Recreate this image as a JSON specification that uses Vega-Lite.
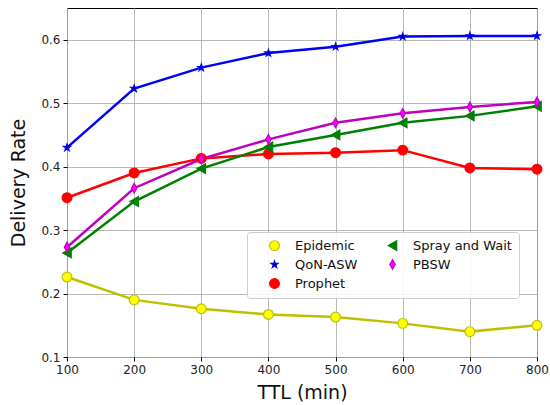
{
  "$schema": "https://vega.github.io/schema/vega-lite/v6.json",
  "autosize": {"type": "none"},
  "width": 470,
  "height": 349,
  "padding": {"left": 67, "top": 8, "right": 13, "bottom": 48},
  "background": "white",
  "config": {
    "font": "DejaVu Sans",
    "view": {"stroke": "black", "strokeWidth": 1},
    "axis": {
      "gridColor": "#b0b0b0", "gridWidth": 0.9, "gridOpacity": 1,
      "domain": false, "tickColor": "black", "tickSize": 4,
      "labelFont": "DejaVu Sans", "labelFontSize": 12, "labelColor": "#222", "labelFlush": false, "labelOverlap": false,
      "titleFont": "DejaVu Sans", "titleFontSize": 19, "titleFontWeight": "normal", "titleColor": "#111"
    }
  },
  "data": {"values": [
    {"ttl": 100, "series": "Epidemic", "rate": 0.226},
    {"ttl": 200, "series": "Epidemic", "rate": 0.190},
    {"ttl": 300, "series": "Epidemic", "rate": 0.176},
    {"ttl": 400, "series": "Epidemic", "rate": 0.167},
    {"ttl": 500, "series": "Epidemic", "rate": 0.163},
    {"ttl": 600, "series": "Epidemic", "rate": 0.153},
    {"ttl": 700, "series": "Epidemic", "rate": 0.140},
    {"ttl": 800, "series": "Epidemic", "rate": 0.150},
    {"ttl": 100, "series": "QoN-ASW", "rate": 0.430},
    {"ttl": 200, "series": "QoN-ASW", "rate": 0.523},
    {"ttl": 300, "series": "QoN-ASW", "rate": 0.556},
    {"ttl": 400, "series": "QoN-ASW", "rate": 0.579},
    {"ttl": 500, "series": "QoN-ASW", "rate": 0.589},
    {"ttl": 600, "series": "QoN-ASW", "rate": 0.605},
    {"ttl": 700, "series": "QoN-ASW", "rate": 0.606},
    {"ttl": 800, "series": "QoN-ASW", "rate": 0.606},
    {"ttl": 100, "series": "Prophet", "rate": 0.351},
    {"ttl": 200, "series": "Prophet", "rate": 0.390},
    {"ttl": 300, "series": "Prophet", "rate": 0.413},
    {"ttl": 400, "series": "Prophet", "rate": 0.420},
    {"ttl": 500, "series": "Prophet", "rate": 0.422},
    {"ttl": 600, "series": "Prophet", "rate": 0.426},
    {"ttl": 700, "series": "Prophet", "rate": 0.398},
    {"ttl": 800, "series": "Prophet", "rate": 0.396},
    {"ttl": 100, "series": "Spray and Wait", "rate": 0.264},
    {"ttl": 200, "series": "Spray and Wait", "rate": 0.345},
    {"ttl": 300, "series": "Spray and Wait", "rate": 0.397},
    {"ttl": 400, "series": "Spray and Wait", "rate": 0.431},
    {"ttl": 500, "series": "Spray and Wait", "rate": 0.450},
    {"ttl": 600, "series": "Spray and Wait", "rate": 0.469},
    {"ttl": 700, "series": "Spray and Wait", "rate": 0.480},
    {"ttl": 800, "series": "Spray and Wait", "rate": 0.495},
    {"ttl": 100, "series": "PBSW", "rate": 0.273},
    {"ttl": 200, "series": "PBSW", "rate": 0.366},
    {"ttl": 300, "series": "PBSW", "rate": 0.412},
    {"ttl": 400, "series": "PBSW", "rate": 0.443},
    {"ttl": 500, "series": "PBSW", "rate": 0.469},
    {"ttl": 600, "series": "PBSW", "rate": 0.484},
    {"ttl": 700, "series": "PBSW", "rate": 0.494},
    {"ttl": 800, "series": "PBSW", "rate": 0.502}
  ]},
  "encoding": {
    "x": {"field": "ttl", "type": "quantitative", "title": "TTL (min)",
          "scale": {"domain": [100, 800], "nice": false},
          "axis": {"values": [100, 200, 300, 400, 500, 600, 700, 800], "titlePadding": 8, "labelPadding": 3}},
    "y": {"field": "rate", "type": "quantitative", "title": "Delivery Rate",
          "scale": {"domain": [0.1, 0.65], "nice": false, "zero": false},
          "axis": {"values": [0.1, 0.2, 0.3, 0.4, 0.5, 0.6], "format": ".1f", "titlePadding": 12, "labelPadding": 3}}
  },
  "layer": [
    {
      "mark": {"type": "line", "strokeWidth": 2.5},
      "encoding": {
        "stroke": {"field": "series", "type": "nominal", "title": null,
          "scale": {"domain": ["Epidemic", "Spray and Wait", "QoN-ASW", "PBSW", "Prophet"],
                    "range": ["#bfbf00", "#008000", "#0000ff", "#bf00bf", "#ff0000"]}},
        "detail": {"field": "series"}
      }
    },
    {
      "mark": {"type": "point", "filled": true, "size": 95, "strokeWidth": 1.2, "opacity": 1},
      "encoding": {
        "stroke": {"field": "series", "type": "nominal", "title": null,
          "scale": {"domain": ["Epidemic", "Spray and Wait", "QoN-ASW", "PBSW", "Prophet"],
                    "range": ["#bfbf00", "#008000", "#0000ff", "#bf00bf", "#ff0000"]},
          "legend": {
            "orient": "none", "legendX": 180, "legendY": 224, "columns": 2,
            "direction": "horizontal",
            "labelFont": "DejaVu Sans", "labelFontSize": 13, "labelColor": "#111",
            "symbolSize": 95, "symbolStrokeWidth": 1.2, "columnPadding": 14, "rowPadding": 4,
            "padding": 7, "fillColor": "rgba(255,255,255,0.85)", "strokeColor": "#cccccc",
            "cornerRadius": 3, "labelOffset": 14, "symbolOffset": 14
          }},
        "fill": {"field": "series", "type": "nominal", "title": null,
          "scale": {"domain": ["Epidemic", "Spray and Wait", "QoN-ASW", "PBSW", "Prophet"],
                    "range": ["#ffff00", "#008000", "#000033", "#ff00ff", "#ff0000"]}},
        "shape": {"field": "series", "type": "nominal", "title": null,
          "scale": {"domain": ["Epidemic", "Spray and Wait", "QoN-ASW", "PBSW", "Prophet"],
                    "range": ["circle", "triangle-left",
                              "M0,-0.75L0.168,-0.232L0.713,-0.232L0.272,0.089L0.441,0.607L0,0.287L-0.441,0.607L-0.272,0.089L-0.713,-0.232L-0.168,-0.232Z",
                              "M0,-1L0.55,0L0,1L-0.55,0Z", "circle"]}}
      }
    }
  ]
}
